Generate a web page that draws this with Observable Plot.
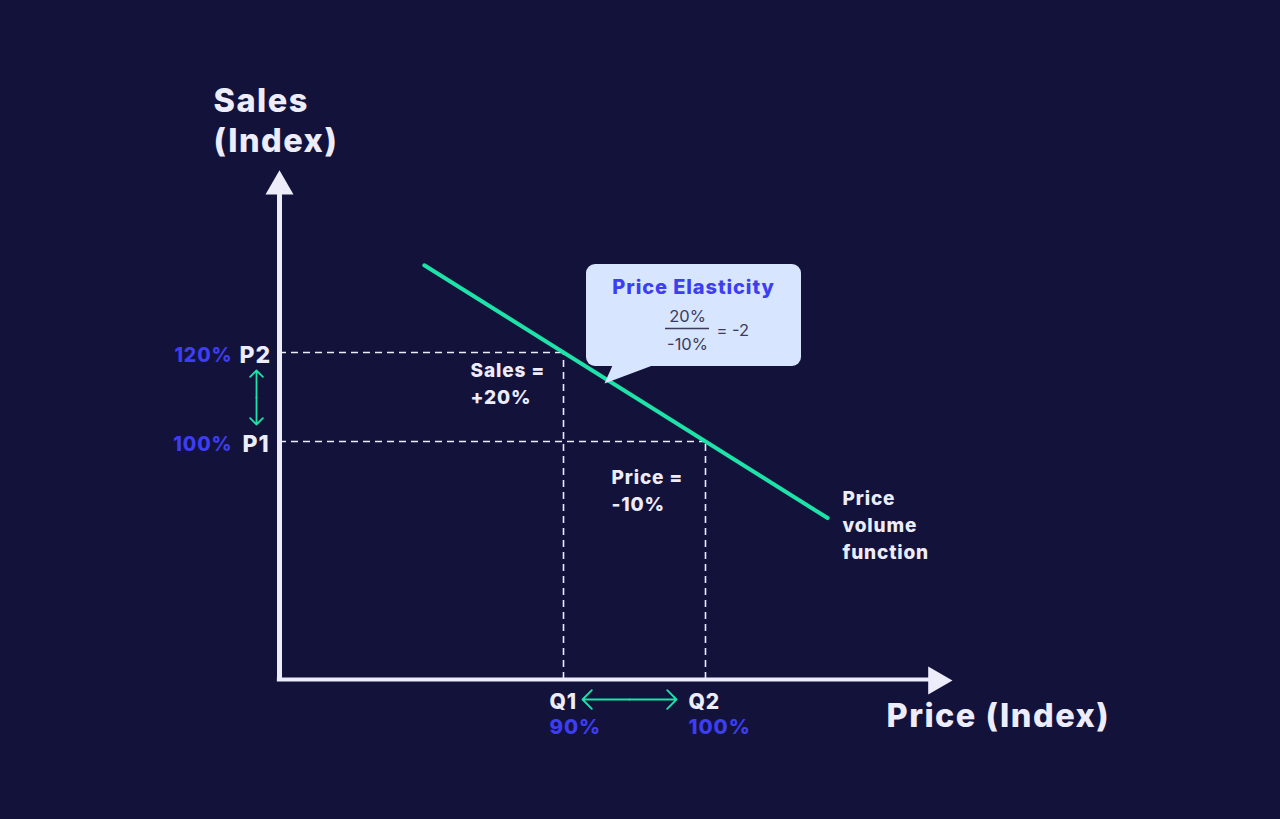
<!DOCTYPE html>
<html><head><meta charset="utf-8">
<script src="https://cdn.jsdelivr.net/npm/d3@7"></script>
<script src="https://cdn.jsdelivr.net/npm/@observablehq/plot@0.6"></script>
<style>html,body{margin:0;padding:0;background:#13123b;overflow:hidden}</style>
</head><body><div id="chart"></div>
<script>
// ---------- data (index values) ----------
const priceLabels = ["Q1", "Q2"];
const priceValues = [90, 100];          // price index %
const salesLabels = ["P1", "P2"];
const salesValues = [100, 120];         // sales index %
const curveX = [80.2, 108.6];           // price-volume function endpoints
const curveY = [139.6, 82.8];
const axisOriginX = 70, axisOriginY = 46.5;
const axisEndX = 117.4, axisEndY = 160.9;
const salesChange = "+20%", priceChange = "-10%", elasticity = "-2";

// ---------- styles ----------
const BG = "#13123b", WHITE = "#ececfb", GREEN = "#1ee3a8", BLUE = "#3d3df2", BOX = "#d7e5ff", INK = "#3b3b5c";
const FONT = "Inter, 'Noto Sans', sans-serif";
const BOLD = 800;

// layout helpers (pixel -> data) used only for annotation placement
const px2x = p => 90 + (p - 563) / 14.2;
const px2y = p => 100 + (441 - p) / 4.45;

const T = (d, o) => Plot.text([d], {x: "x", y: "y", text: "t", fontFamily: FONT, lineAnchor: "middle", ...o});

const plot = Plot.plot({
  width: 1280, height: 819,
  marginTop: 0, marginRight: 0, marginBottom: 0, marginLeft: 0,
  x: {domain: [priceValues[0], priceValues[1]], range: [563, 705], axis: null},
  y: {domain: [salesValues[0], salesValues[1]], range: [441, 352], axis: null},
  style: {background: BG, fontFamily: FONT, overflow: "visible"},
  marks: [
    // dashed guides
    Plot.ruleY([0, 1], {y: i => salesValues[i], x1: axisOriginX, x2: i => priceValues[1 - i], stroke: WHITE, strokeWidth: 1.6, strokeDasharray: "7,5"}),
    Plot.ruleX([0, 1], {x: i => priceValues[i], y1: axisOriginY, y2: i => salesValues[1 - i], stroke: WHITE, strokeWidth: 1.6, strokeDasharray: "7,5"}),
    // axes
    Plot.ruleX([axisOriginX], {x: d => d, y1: axisOriginY - 0.4, y2: px2y(192), stroke: WHITE, strokeWidth: 5}),
    Plot.ruleY([axisOriginY], {y: d => d, x1: axisOriginX - 0.15, x2: px2x(930), stroke: WHITE, strokeWidth: 4}),
    Plot.dot([{x: axisOriginX, y: axisEndY}], {x: "x", y: d => px2y(186), symbol: "triangle", r: 10.4, fill: WHITE, stroke: null}),
    Plot.dot([{x: axisEndX, y: axisOriginY}], {x: d => px2x(935.8), y: d => px2y(680), symbol: "triangle", r: 10.4, fill: WHITE, stroke: null, rotate: 90}),
    // price volume function
    Plot.line([0, 1], {x: i => curveX[i], y: i => curveY[i], stroke: GREEN, strokeWidth: 4}),
    // callout
    Plot.rect([0], {x1: px2x(586), x2: px2x(801), y1: px2y(264), y2: px2y(366), fill: BOX, rx: 9}),
    Plot.line([[612, 365], [652, 365], [604, 383], [612, 365]], {x: d => px2x(d[0]), y: d => px2y(d[1]), fill: BOX, stroke: "none"}),
    T({x: px2x(693), y: px2y(287), t: "Price Elasticity"}, {fill: BLUE, fontSize: 20, fontWeight: BOLD}),
    T({x: px2x(687), y: px2y(316), t: "20%"}, {fill: INK, fontSize: 16.5}),
    T({x: px2x(687), y: px2y(344), t: priceChange}, {fill: INK, fontSize: 16.5}),
    Plot.ruleY([0], {y: px2y(328), x1: px2x(665), x2: px2x(709), stroke: INK, strokeWidth: 1.6}),
    T({x: px2x(716), y: px2y(330), t: "= " + elasticity}, {fill: INK, fontSize: 16.5, textAnchor: "start"}),
    // axis titles
    T({x: px2x(213), y: px2y(119), t: "Sales\n(Index)"}, {fill: WHITE, fontSize: 32.5, fontWeight: BOLD, textAnchor: "start", lineHeight: 1.23}),
    T({x: px2x(886), y: px2y(716), t: "Price (Index)"}, {fill: WHITE, fontSize: 32.5, fontWeight: BOLD, textAnchor: "start"}),
    // sales level labels
    Plot.text([0, 1], {x: px2x(232), y: i => salesValues[i], text: i => salesValues[i] + "%", fill: BLUE, fontSize: 19.5, fontWeight: BOLD, textAnchor: "end", dy: 3, fontFamily: FONT}),
    Plot.text([0, 1], {x: i => px2x([242, 239][i]), y: i => salesValues[i], text: i => salesLabels[i], fill: WHITE, fontSize: 23, fontWeight: BOLD, textAnchor: "start", dy: 3, fontFamily: FONT}),
    // price level labels
    Plot.text([0, 1], {x: i => px2x([549, 688][i]), y: px2y(702), text: i => priceLabels[i], fill: WHITE, fontSize: 21, fontWeight: BOLD, textAnchor: "start", fontFamily: FONT}),
    Plot.text([0, 1], {x: i => px2x([549, 688][i]), y: px2y(727), text: i => priceValues[i] + "%", fill: BLUE, fontSize: 20.5, fontWeight: BOLD, textAnchor: "start", fontFamily: FONT}),
    // change annotations
    T({x: px2x(470), y: px2y(383), t: "Sales =\n" + salesChange}, {fill: WHITE, fontSize: 19, fontWeight: BOLD, textAnchor: "start", lineHeight: 1.42, dy: -2}),
    T({x: px2x(611), y: px2y(491), t: "Price =\n" + priceChange}, {fill: WHITE, fontSize: 19, fontWeight: BOLD, textAnchor: "start", lineHeight: 1.42, dy: -3}),
    T({x: px2x(842), y: px2y(525), t: "Price\nvolume\nfunction"}, {fill: WHITE, fontSize: 19, fontWeight: BOLD, textAnchor: "start", lineHeight: 1.42, dy: -2}),
    // green double arrows
    Plot.arrow([0, 1], {x1: px2x(256), x2: px2x(256), y1: px2y(397), y2: i => px2y(i ? 370 : 424), stroke: GREEN, strokeWidth: 1.8, headLength: 11, headAngle: 90}),
    Plot.arrow([0, 1], {y1: px2y(699), y2: px2y(699), x1: px2x(629), x2: i => px2x(i ? 676 : 582), stroke: GREEN, strokeWidth: 1.8, headLength: 11, headAngle: 90})
  ]
});
// wider, geometric feel for the bold labels
d3.select(plot).selectAll('g[aria-label="text"]').filter(function() { return this.getAttribute("font-weight") == BOLD; })
  .style("letter-spacing", "0.045em");
document.getElementById("chart").appendChild(plot);
</script></body></html>
